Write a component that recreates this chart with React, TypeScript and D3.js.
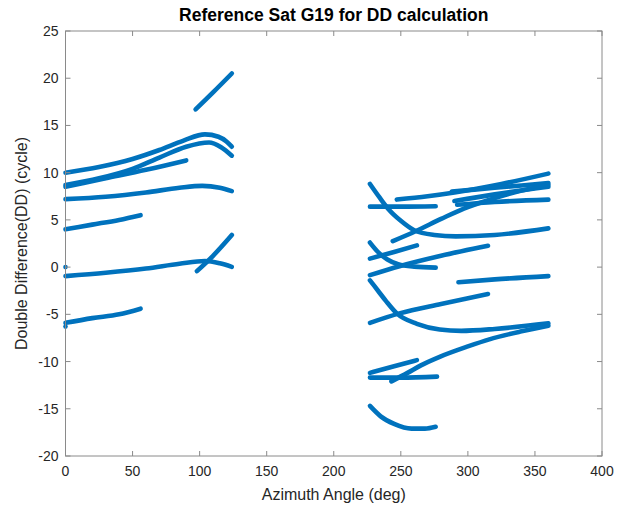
import React from "react";
import * as d3 from "d3";

type Pt = [number, number];

// Tick values
const xTicks: number[] = [0, 50, 100, 150, 200, 250, 300, 350, 400];
const yTicks: number[] = [-20, -15, -10, -5, 0, 5, 10, 15, 20, 25];

// Left group (azimuth 0-125 deg)
const arcTop: Pt[] = [[0, 10.0], [25, 10.6], [50, 11.45], [70, 12.4], [88, 13.4], [104, 14.05], [114, 13.8], [120, 13.3], [124, 12.75]];
const arcSecond: Pt[] = [[0, 8.7], [25, 9.4], [50, 10.4], [70, 11.6], [90, 12.75], [107, 13.2], [116, 12.7], [124, 11.8]];
const shortUpper: Pt[] = [[0, 8.5], [30, 9.4], [60, 10.3], [90, 11.3]];
const flatSeven: Pt[] = [[0, 7.2], [30, 7.45], [60, 7.9], [85, 8.4], [102, 8.6], [115, 8.4], [124, 8.05]];
const shortFour: Pt[] = [[0, 4.0], [20, 4.5], [40, 5.0], [56, 5.5]];
const steepTop: Pt[] = [[97, 16.7], [110, 18.5], [124, 20.5]];
const nearZero: Pt[] = [[0, -0.95], [30, -0.6], [60, -0.15], [85, 0.35], [104, 0.64], [115, 0.4], [124, 0.03]];
const steepZero: Pt[] = [[98, -0.42], [110, 1.2], [124, 3.4]];
const lowLeft: Pt[] = [[0, -5.9], [20, -5.4], [40, -5.0], [56, -4.4]];
const singleDots: Pt[] = [[0, 0], [0, -6.3]];

// Right group (azimuth 225-360 deg)
const dipA: Pt[] = [[227, 8.8], [234, 7.4], [241, 6.1], [250, 4.9], [260, 3.9], [275, 3.4], [291, 3.25], [320, 3.4], [360, 4.1]];
const flatB: Pt[] = [[227, 6.4], [250, 6.4], [276, 6.45]];
const riseC: Pt[] = [[247, 7.15], [270, 7.5], [290, 7.9], [325, 8.8], [360, 9.9]];
const riseD1: Pt[] = [[288, 8.0], [320, 8.4], [360, 8.9]];
const riseD2: Pt[] = [[290, 7.0], [320, 7.7], [360, 8.5]];
const riseF: Pt[] = [[292, 6.6], [320, 6.9], [360, 7.15]];
const riseE: Pt[] = [[244, 2.75], [261, 3.8], [280, 5.1], [297, 6.2], [320, 7.3], [340, 8.1], [360, 8.7]];
const dropG: Pt[] = [[227, 2.6], [233, 1.6], [240, 0.8], [248, 0.3], [260, 0.05], [276, -0.05]];
const riseH: Pt[] = [[227, 0.9], [245, 1.6], [262, 2.3]];
const riseI: Pt[] = [[227, -0.85], [249, 0.1], [280, 1.2], [315, 2.25]];
const flatJ: Pt[] = [[293, -1.6], [320, -1.3], [360, -0.95]];
const dipK: Pt[] = [[227, -1.4], [233, -2.5], [239, -3.6], [247, -4.9], [262, -6.0], [279, -6.6], [295, -6.75], [320, -6.55], [360, -5.95]];
const riseM: Pt[] = [[227, -5.9], [249, -4.9], [280, -3.9], [315, -2.85]];
const riseL: Pt[] = [[243, -12.1], [255, -11.2], [265, -10.4], [279, -9.5], [300, -8.4], [316, -7.65], [340, -6.8], [360, -6.2]];
const riseN: Pt[] = [[227, -11.2], [245, -10.5], [262, -9.85]];
const flatO: Pt[] = [[227, -11.7], [250, -11.7], [277, -11.6]];
const bowlP: Pt[] = [[227, -14.7], [235, -15.8], [245, -16.6], [258, -17.1], [268, -17.1], [276, -16.9]];

const allSeries: Pt[][] = [
  arcTop, arcSecond, shortUpper, flatSeven, shortFour, steepTop, nearZero, steepZero, lowLeft,
  dipA, flatB, riseC, riseD1, riseD2, riseF, riseE, dropG, riseH, riseI, flatJ, dipK, riseM, riseL, riseN, flatO, bowlP,
];

const W = 621;
const H = 512;
const left = 65.5;
const right = 602;
const top = 31;
const bottom = 456;
const BLUE = "#0072BD";
const AXIS = "#8a8a8a";
const TXT = "#262626";
const FONT = "'Liberation Sans', Arial, Helvetica, sans-serif";

export default function App() {
  const x = d3.scaleLinear().domain([0, 400]).range([left, right]);
  const y = d3.scaleLinear().domain([-20, 25]).range([bottom, top]);
  const line = d3
    .line<Pt>()
    .x((d) => x(d[0]))
    .y((d) => y(d[1]))
    .curve(d3.curveMonotoneX);
  const tl = 5;
  return (
    <svg
      width={W}
      height={H}
      style={{ position: "absolute", left: 0, top: 0, background: "#fff" }}
      fontFamily={FONT}
    >
      <rect x={0} y={0} width={W} height={H} fill="#fff" />
      <g>
        {allSeries.map((s, i) => (
          <path
            key={i}
            d={line(s) || ""}
            fill="none"
            stroke={BLUE}
            strokeWidth={4.6}
            strokeLinecap="round"
            strokeLinejoin="round"
          />
        ))}
        {singleDots.map((d, i) => (
          <circle key={i} cx={x(d[0])} cy={y(d[1])} r={2.3} fill={BLUE} />
        ))}
      </g>
      <rect
        x={left}
        y={top}
        width={right - left}
        height={bottom - top}
        fill="none"
        stroke={AXIS}
        strokeWidth={1}
      />
      {xTicks.map((t) => (
        <g key={"x" + t}>
          <line x1={x(t)} x2={x(t)} y1={bottom} y2={bottom - tl} stroke={AXIS} />
          <line x1={x(t)} x2={x(t)} y1={top} y2={top + tl} stroke={AXIS} />
          <text x={x(t)} y={bottom + 20} textAnchor="middle" fontSize={14} fill={TXT}>
            {t}
          </text>
        </g>
      ))}
      {yTicks.map((t) => (
        <g key={"y" + t}>
          <line x1={left} x2={left + tl} y1={y(t)} y2={y(t)} stroke={AXIS} />
          <line x1={right} x2={right - tl} y1={y(t)} y2={y(t)} stroke={AXIS} />
          <text x={left - 7} y={y(t) + 5} textAnchor="end" fontSize={14} fill={TXT}>
            {t}
          </text>
        </g>
      ))}
      <text x={(left + right) / 2} y={21} textAnchor="middle" fontSize={17.5} fontWeight="bold" fill="#000">
        Reference Sat G19 for DD calculation
      </text>
      <text x={(left + right) / 2} y={500} textAnchor="middle" fontSize={16} fill={TXT}>
        Azimuth Angle (deg)
      </text>
      <text
        transform={`translate(27, ${(top + bottom) / 2}) rotate(-90)`}
        textAnchor="middle"
        fontSize={16}
        fill={TXT}
      >
        Double Difference(DD) (cycle)
      </text>
    </svg>
  );
}
